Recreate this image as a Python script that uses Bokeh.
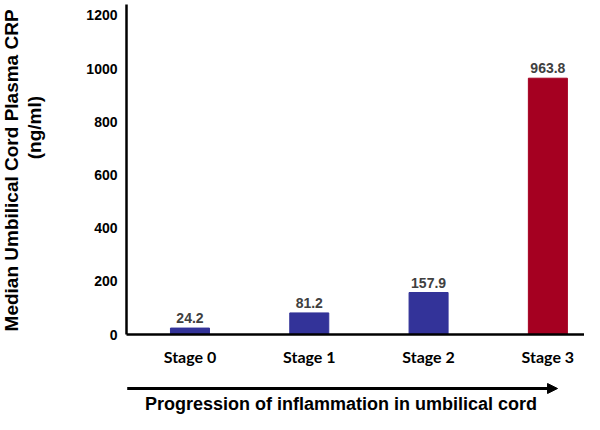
import math
from bokeh.plotting import figure
from bokeh.layouts import row, column
from bokeh.models import ColumnDataSource, Arrow, NormalHead, FixedTicker, Range1d
from bokeh.core.properties import value
from bokeh.embed import file_html
from bokeh.resources import INLINE

stages = ["Stage 0", "Stage 1", "Stage 2", "Stage 3"]
crp = [24.2, 81.2, 157.9, 963.8]
labels = ["24.2", "81.2", "157.9", "963.8"]
colors = ["#333399", "#333399", "#333399", "#A50021"]
y_ticks = [0, 200, 400, 600, 800, 1000, 1200]
y_title = ["Median Umbilical Cord Plasma CRP", "(ng/ml)"]
x_title = "Progression of inflammation in umbilical cord"

xpos = [i + 0.5 for i in range(len(stages))]
src = ColumnDataSource(dict(x=xpos, top=crp, lab=labels, color=colors))

FONT = "Liberation Sans"
TW = 50          # width of the y-title strip
PH = 368         # main plot height
BOT = 34         # main plot bottom border
TOP = 4

yr = Range1d(0, 1241)
xr = Range1d(-0.032, 3.807)

p = figure(width=584 - TW, height=PH, output_backend="svg", toolbar_location=None,
           x_range=xr, y_range=yr,
           min_border_left=126 - TW, min_border_right=0, min_border_top=TOP, min_border_bottom=BOT)
p.outline_line_color = None
p.xgrid.visible = False
p.ygrid.visible = False

p.vbar(x="x", top="top", width=0.327, color="color", source=src)
p.text(x="x", y="top", text="lab", source=src, text_align="center", text_baseline="middle",
       y_offset=-10, text_font=value(FONT), text_font_style="bold",
       text_font_size="14px", text_color="#404040")

for ax in (p.xaxis[0], p.yaxis[0]):
    ax.axis_line_width = 2.5
    ax.axis_line_color = "black"
    ax.major_tick_line_color = None
    ax.minor_tick_line_color = None
    ax.major_tick_out = 0
    ax.major_tick_in = 0

p.yaxis.ticker = FixedTicker(ticks=y_ticks)
p.yaxis.major_label_text_font = FONT
p.yaxis.major_label_text_font_style = "bold"
p.yaxis.major_label_text_font_size = "14px"
p.yaxis.major_label_text_color = "black"
p.yaxis.major_label_standoff = 9

p.xaxis.ticker = FixedTicker(ticks=xpos)
p.xaxis.major_label_overrides = {x: s for x, s in zip(xpos, stages)}
p.xaxis.major_label_text_font = "Lato"
p.xaxis.major_label_text_font_style = "bold"
p.xaxis.major_label_text_font_size = "16px"
p.xaxis.major_label_text_color = "black"
p.xaxis.major_label_standoff = 12

# y-axis title strip (shares the y range so it lines up with the plot frame)
pt = figure(width=TW, height=PH, output_backend="svg", toolbar_location=None,
            x_range=Range1d(0, TW), y_range=yr,
            min_border_left=0, min_border_right=0, min_border_top=TOP, min_border_bottom=BOT)
pt.axis.visible = False
pt.grid.visible = False
pt.outline_line_color = None
pt.text(x=[11, 34], y=[617, 778], text=y_title, angle=math.pi / 2,
        text_align="center", text_baseline="middle", text_font=value(FONT),
        text_font_style="bold", text_font_size="19px", text_color="black")

# bottom strip: arrow and x title (shares the x range)
BH = 414 - PH
p2 = figure(width=584 - TW, height=BH, output_backend="svg", toolbar_location=None,
            x_range=xr, y_range=Range1d(BH, 0),
            min_border_left=126 - TW, min_border_right=0, min_border_top=0, min_border_bottom=0)
p2.axis.visible = False
p2.grid.visible = False
p2.outline_line_color = None
p2.add_layout(Arrow(end=NormalHead(size=10, fill_color="black", line_color="black"),
                    x_start=-0.026, y_start=20, x_end=3.581, y_end=20,
                    line_width=3, line_color="black"))
p2.text(x=[1.766], y=[35], text=[x_title], text_align="center", text_baseline="middle",
        text_font=value(FONT), text_font_style="bold", text_font_size="18px", text_color="black")

layout = row(pt, column(p, p2))
open("out.html", "w").write(file_html(layout, INLINE))
